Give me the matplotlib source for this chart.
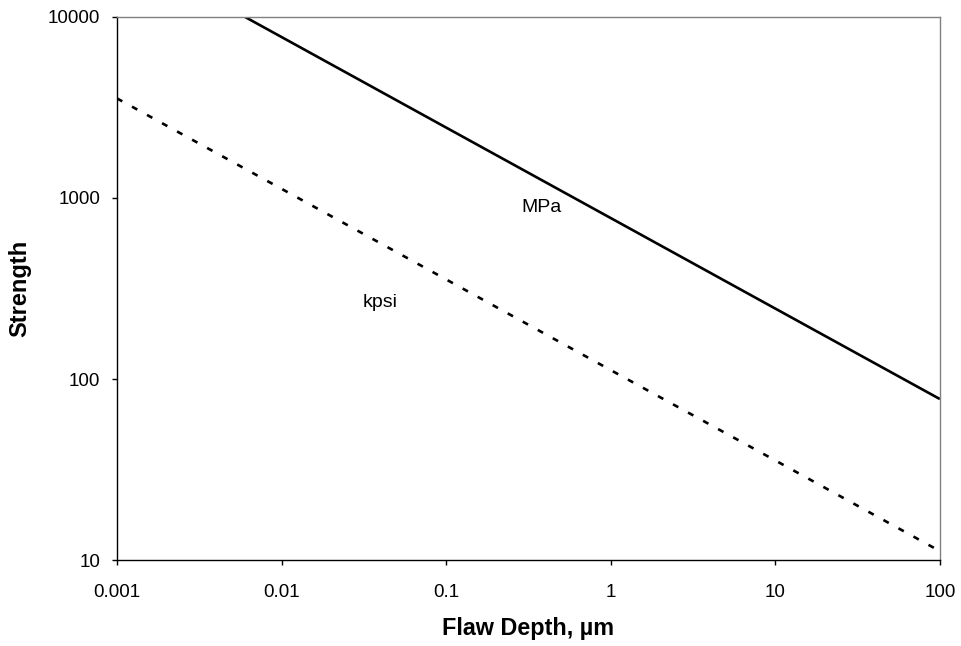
import matplotlib
matplotlib.use("Agg")
import matplotlib.pyplot as plt

plt.rcParams['font.family'] = ['Liberation Sans', 'DejaVu Sans']

# flaw depth (um) and strength at each decade
depth = [0.001, 0.01, 0.1, 1, 10, 100]
strength_mpa = [24500, 7750, 2450, 775, 245, 77.5]
strength_kpsi = [3550, 1124, 355, 112, 35.5, 11.2]

xticks = [0.001, 0.01, 0.1, 1, 10, 100]
xtick_labels = ['0.001', '0.01', '0.1', '1', '10', '100']
yticks = [10, 100, 1000, 10000]
ytick_labels = ['10', '100', '1000', '10000']

fig = plt.figure(figsize=(9.61, 6.46), dpi=100)
ax = fig.add_axes([0.1217, 0.1331, 0.8563, 0.8406])

ax.plot(depth, strength_mpa, color='black', linewidth=1.9, solid_capstyle='butt')
ax.plot(depth, strength_kpsi, color='black', linewidth=1.9, linestyle=(0, (2.3, 4.2)))

ax.set_xscale('log')
ax.set_yscale('log')
ax.set_xlim(0.001, 100)
ax.set_ylim(10, 10000)

ax.set_xticks(xticks, xtick_labels)
ax.set_yticks(yticks, ytick_labels)
ax.minorticks_off()
ax.tick_params(direction='out', length=3.6, width=1, labelsize=13.5, color='black')
ax.tick_params(axis='x', pad=13.5)
ax.tick_params(axis='y', pad=8.6)

for side in ['top', 'right']:
    ax.spines[side].set_color('#808080')
    ax.spines[side].set_linewidth(1)
for side in ['left', 'bottom']:
    ax.spines[side].set_color('black')
    ax.spines[side].set_linewidth(1)

ax.text(0.382, 887, 'MPa', fontsize=14, ha='center', va='center')
ax.text(0.0396, 263, 'kpsi', fontsize=14, ha='center', va='center')

ax.set_xlabel('Flaw Depth, µm', fontsize=16.8, fontweight='bold', labelpad=11.5)
ax.set_ylabel('Strength', fontsize=17, fontweight='bold', labelpad=11.5)

plt.savefig('out.png', dpi=100)
